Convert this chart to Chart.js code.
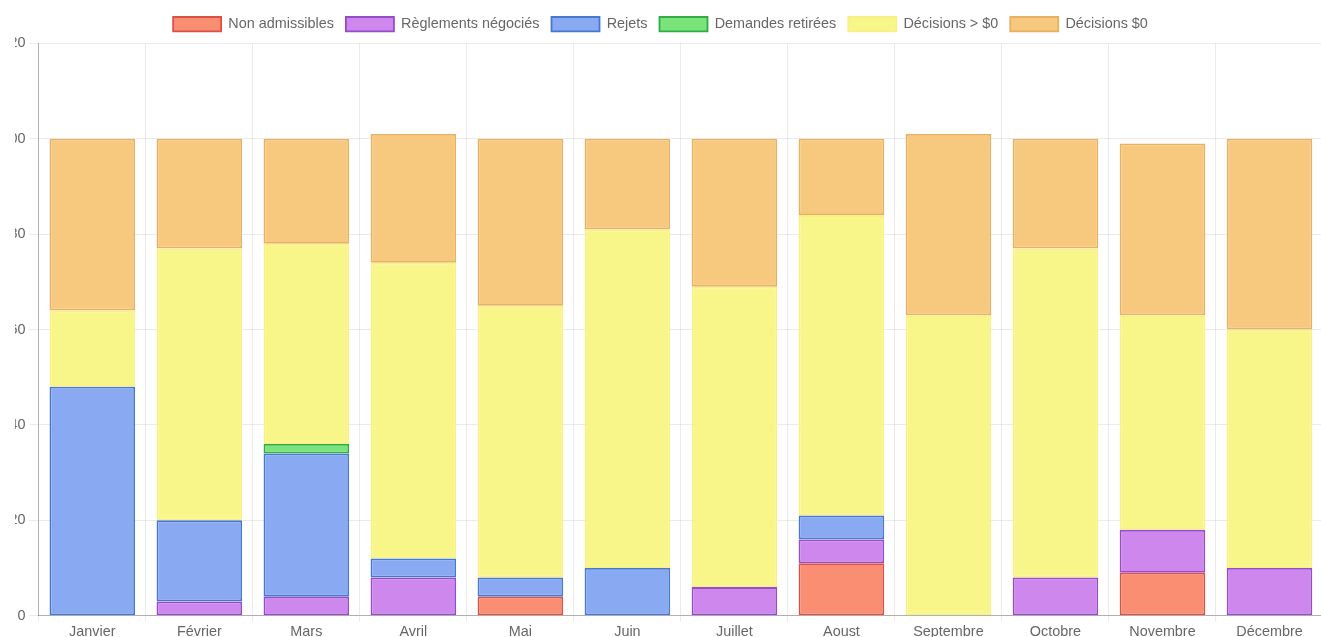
<!DOCTYPE html>
<html>
<head>
<meta charset="utf-8">
<script src="https://cdn.jsdelivr.net/npm/chart.js@4.4.1/dist/chart.umd.min.js"></script>
<style>
  html, body { margin: 0; padding: 0; background: #fff; overflow: hidden; }
  #clip { position: absolute; left: 15px; top: 0; width: 1306px; height: 637px; overflow: hidden; }
  #wrap { position: absolute; left: -17px; top: 5px; width: 1325px; height: 638px; }
</style>
</head>
<body>
<div id="clip"><div id="wrap"><canvas id="graphique"></canvas></div></div>
<script>
const mois = ['Janvier', 'Février', 'Mars', 'Avril', 'Mai', 'Juin', 'Juillet', 'Aoust', 'Septembre', 'Octobre', 'Novembre', 'Décembre'];

const nonAdmissibles   = [0, 0, 0, 0, 4, 0, 0, 11, 0, 0, 9, 0];
const reglements       = [0, 3, 4, 8, 0, 0, 6, 5, 0, 8, 9, 10];
const rejets           = [48, 17, 30, 4, 4, 10, 0, 5, 0, 0, 0, 0];
const demandesRetirees = [0, 0, 2, 0, 0, 0, 0, 0, 0, 0, 0, 0];
const decisionsPlus    = [16, 57, 42, 62, 57, 71, 63, 63, 63, 69, 45, 50];
const decisionsZero    = [36, 23, 22, 27, 35, 19, 31, 16, 38, 23, 36, 40];

const yTicks = [0, 20, 40, 60, 80, 100, 120];

// un peu d'espace sous la légende
const margeLegende = {
  id: 'margeLegende',
  beforeInit(chart) {
    const fit = chart.legend.fit;
    chart.legend.fit = function () {
      fit.bind(chart.legend)();
      this.height += 2;
    };
  }
};

document.addEventListener('DOMContentLoaded', () => {
  Chart.defaults.font.family = '"Liberation Sans", Arial, sans-serif';
  Chart.defaults.font.size = 14.4;
  Chart.defaults.color = '#666';

  const serie = (label, data, fond, bord) => ({
    label, data,
    backgroundColor: fond,
    borderColor: bord,
    borderWidth: 1.8,
    borderSkipped: false,
    categoryPercentage: 0.8,
    barPercentage: 1
  });

  const ctx = document.getElementById('graphique').getContext('2d');
  new Chart(ctx, {
    type: 'bar',
    data: {
      labels: mois,
      datasets: [
        serie('Non admissibles', nonAdmissibles, 'rgba(249,142,115,1)', 'rgba(220,80,70,1)'),
        serie('Règlements négociés', reglements, 'rgba(206,135,236,1)', 'rgba(150,75,200,1)'),
        serie('Rejets', rejets, 'rgba(137,169,243,1)', 'rgba(70,120,205,1)'),
        serie('Demandes retirées', demandesRetirees, 'rgba(120,228,122,1)', 'rgba(50,170,70,1)'),
        serie('Décisions > $0', decisionsPlus, 'rgba(248,246,136,1)', 'rgba(248,240,130,1)'),
        serie('Décisions $0', decisionsZero, 'rgba(246,201,126,1)', 'rgba(232,176,96,1)')
      ]
    },
    options: {
      responsive: true,
      maintainAspectRatio: false,
      animation: false,
      layout: { padding: 0 },
      plugins: {
        legend: {
          position: 'top',
          labels: { boxWidth: 48, boxHeight: 14.4, padding: 12, color: '#666' }
        },
        tooltip: { enabled: false }
      },
      scales: {
        x: {
          stacked: true,
          grid: { color: 'rgba(0,0,0,0.08)', tickLength: 6 },
          border: { color: 'rgba(0,0,0,0.25)' },
          ticks: { color: '#666', padding: 2 }
        },
        y: {
          stacked: true,
          min: 0,
          max: yTicks[yTicks.length - 1],
          afterBuildTicks: axis => { axis.ticks = yTicks.map(v => ({ value: v })); },
          grid: { color: 'rgba(0,0,0,0.08)', tickLength: 9.6 },
          border: { color: 'rgba(0,0,0,0.25)' },
          ticks: { color: '#666', padding: 3.6 }
        }
      }
    },
    plugins: [margeLegende]
  });
});
</script>
</body>
</html>
